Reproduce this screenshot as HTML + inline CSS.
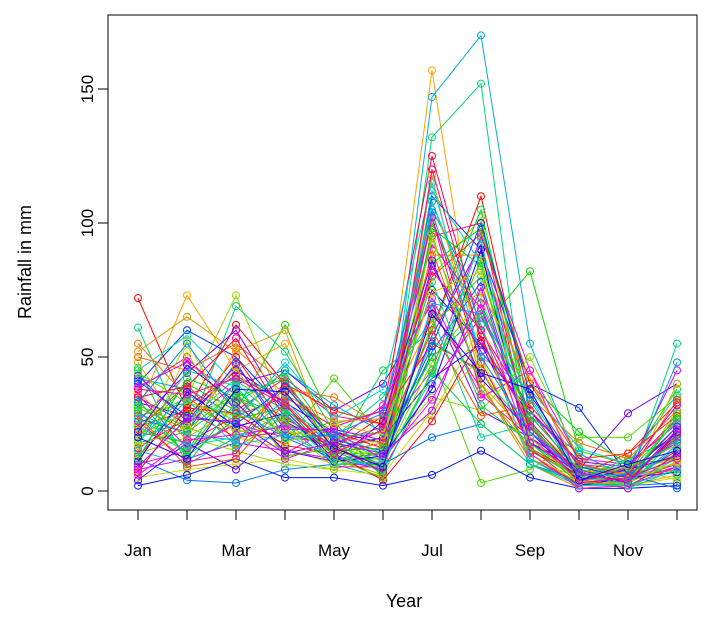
<!DOCTYPE html>
<html><head><meta charset="utf-8"><title>Rainfall chart</title>
<style>
html,body{margin:0;padding:0;background:#fff;}
svg{display:block;font-family:"Liberation Sans",Arial,sans-serif;}
</style></head>
<body>
<svg id="chart" width="706" height="618" viewBox="0 0 706 618">
  <rect x="0" y="0" width="706" height="618" fill="#fff"/>
  <g id="plot"></g>
  <rect x="108" y="15" width="589" height="495" fill="none" stroke="#000" stroke-width="1"/>
  <g id="xaxis"></g>
  <g id="yaxis"></g>
  <text x="404" y="607" font-size="18" text-anchor="middle">Year</text>
  <text x="31" y="262" font-size="18" text-anchor="middle" transform="rotate(-90 31 262)">Rainfall in mm</text>
</svg>
<script>
const months = ["Jan","Feb","Mar","Apr","May","Jun","Jul","Aug","Sep","Oct","Nov","Dec"];
const monthLabels = ["Jan","","Mar","","May","","Jul","","Sep","","Nov",""];
const yTicks = [0,50,100,150];
const series = [
 [72,30,62,40,20,18,60,110,30,10,5,20],
 [30,73,45,55,15,20,157,40,20,5,8,12],
 [25,35,73,30,18,12,80,102,25,8,3,30],
 [20,40,30,62,25,30,100,60,82,15,10,38],
 [61,20,69,52,22,8,132,152,15,5,3,55],
 [15,10,20,25,10,5,147,170,55,10,5,10],
 [40,60,50,30,12,14,110,90,40,31,6,18],
 [35,25,40,45,30,40,70,30,20,8,29,40],
 [10,15,25,20,18,22,45,95,45,12,10,25],
 [22,18,28,35,24,30,125,60,30,6,4,15],
 [50,45,55,40,15,10,90,40,12,3,5,8],
 [5,8,10,12,8,6,30,50,12,2,2,5],
 [28,33,23,18,42,20,50,3,8,20,20,35],
 [18,22,35,28,14,45,60,105,25,5,12,20],
 [45,58,40,25,20,12,112,85,35,7,3,12],
 [12,4,3,8,10,10,20,25,10,4,2,3],
 [33,28,45,33,22,18,75,55,18,9,7,22],
 [8,12,18,15,12,8,40,65,30,10,8,45],
 [38,50,30,42,28,25,95,100,20,3,9,27],
 [24,30,20,22,16,28,55,45,15,6,14,33],
 [52,65,52,60,12,6,118,40,10,1,2,6],
 [14,20,15,10,8,15,35,30,50,12,6,18],
 [30,14,38,20,26,5,85,98,40,22,10,12],
 [20,26,42,36,20,35,65,20,25,4,1,8],
 [42,38,28,45,32,22,105,70,28,14,5,48],
 [2,6,12,5,5,2,6,15,5,1,1,2],
 [26,44,60,30,12,10,58,92,22,8,3,16],
 [36,16,25,12,18,32,72,35,45,5,4,10],
 [16,27,50,24,22,16,102,48,14,2,6,24],
 [55,35,22,38,35,24,88,88,35,18,12,30],
 [9,52,20,16,10,20,28,62,18,7,9,4],
 [32,24,16,28,14,14,62,80,32,10,5,14],
 [46,10,33,44,19,6,45,25,10,3,2,20],
 [19,36,26,48,27,38,115,50,38,16,10,36],
 [27,22,48,20,12,12,52,78,20,4,6,1],
 [4,18,8,26,16,20,42,55,28,8,3,22],
 [39,48,36,14,24,30,92,68,24,6,8,18],
 [13,32,43,33,9,9,68,38,16,2,4,9],
 [23,40,18,40,30,25,80,96,40,12,14,28],
 [48,20,31,22,20,18,108,58,12,5,2,40],
 [21,29,34,27,17,11,48,72,26,6,4,13],
 [34,13,27,31,13,9,98,84,18,3,2,11],
 [17,45,39,19,21,14,56,44,22,9,7,26],
 [29,21,19,34,15,7,70,66,34,5,3,17],
 [11,37,24,29,11,13,38,90,12,2,5,7],
 [43,26,47,23,23,19,84,52,30,11,9,32],
 [26,11,14,41,18,24,102,36,20,4,1,14],
 [7,31,29,17,14,4,26,58,16,6,4,21],
 [37,19,53,36,26,27,64,74,42,8,6,19],
 [19,56,22,24,9,17,94,46,14,3,7,10],
 [31,23,37,13,16,10,44,86,24,7,2,29],
 [24,15,41,30,20,22,78,32,18,5,11,6],
 [15,34,17,21,13,8,108,62,10,2,3,16],
 [41,28,25,39,19,15,54,100,36,9,5,24],
 [22,47,33,15,11,26,86,42,22,4,8,13],
 [6,19,21,24,22,12,34,70,14,1,2,9],
 [35,39,57,27,17,7,120,56,26,6,4,21],
 [28,9,12,33,14,18,60,28,32,10,6,34],
 [17,24,46,18,25,21,74,82,20,3,3,11],
 [44,33,28,26,12,5,96,38,16,5,9,17],
 [12,42,35,42,15,16,50,66,28,8,4,27],
 [27,17,20,29,10,11,42,94,12,2,2,8],
 [33,55,30,20,21,29,104,50,22,6,6,19],
 [20,12,38,37,16,9,66,44,38,4,10,15],
 [9,27,26,14,18,14,30,76,18,7,3,23],
 [38,36,42,32,14,23,82,60,24,3,5,12]
];
const svgNS = "http://www.w3.org/2000/svg";
const X0 = 138, DX = 49, Y0 = 491, KY = 2.68;
function xs(i){ return X0 + i*DX; }
function ys(v){ return Y0 - v*KY; }
const plot = document.getElementById('plot');
series.forEach((s, si) => {
  const hue = (si*360/series.length*7) % 360;
  const col = `hsl(${hue},100%,${hue>40&&hue<200?42:50}%)`;
  const g = document.createElementNS(svgNS,'g');
  
  
  const pl = document.createElementNS(svgNS,'polyline');
  pl.setAttribute('points', s.map((v,i)=>xs(i)+','+ys(v)).join(' '));
  pl.setAttribute('fill','none'); pl.setAttribute('stroke',col); pl.setAttribute('stroke-width','1');
  
  
  g.appendChild(pl);
  s.forEach((v,i) => {
    const c = document.createElementNS(svgNS,'circle');
    c.setAttribute('cx', xs(i)); c.setAttribute('cy', ys(v)); c.setAttribute('r', 3.5);
    c.setAttribute('fill','none'); c.setAttribute('stroke',col); c.setAttribute('stroke-width','1');
    
    
    g.appendChild(c);
  });
  plot.appendChild(g);
});
const xa = document.getElementById('xaxis');
xa.innerHTML = `<line x1="${xs(0)}" y1="510" x2="${xs(11)}" y2="510" stroke="#000"/>`;
months.forEach((m,i) => {
  const t = document.createElementNS(svgNS,'line');
  t.setAttribute('x1', xs(i)); t.setAttribute('x2', xs(i)); t.setAttribute('y1',510); t.setAttribute('y2',520);
  t.setAttribute('stroke','#000');
  
  
  xa.appendChild(t);
  if (monthLabels[i]) {
    const tx = document.createElementNS(svgNS,'text');
    tx.setAttribute('x', xs(i)); tx.setAttribute('y', 556); tx.setAttribute('font-size', 17);
    tx.setAttribute('text-anchor','middle'); tx.textContent = monthLabels[i];
    
    
    xa.appendChild(tx);
  }
});
const ya = document.getElementById('yaxis');
ya.innerHTML = `<line x1="108" y1="${ys(0)}" x2="108" y2="${ys(150)}" stroke="#000"/>`;
yTicks.forEach(v => {
  const t = document.createElementNS(svgNS,'line');
  t.setAttribute('x1',98); t.setAttribute('x2',108); t.setAttribute('y1',ys(v)); t.setAttribute('y2',ys(v));
  t.setAttribute('stroke','#000');
  
  
  ya.appendChild(t);
  const tx = document.createElementNS(svgNS,'text');
  tx.setAttribute('x', 93); tx.setAttribute('y', ys(v)); tx.setAttribute('font-size', 17);
  tx.setAttribute('text-anchor','middle');
  tx.setAttribute('transform', `rotate(-90 93 ${ys(v)})`);
  tx.textContent = v;
  
  
  ya.appendChild(tx);
});
</script>
</body></html>
